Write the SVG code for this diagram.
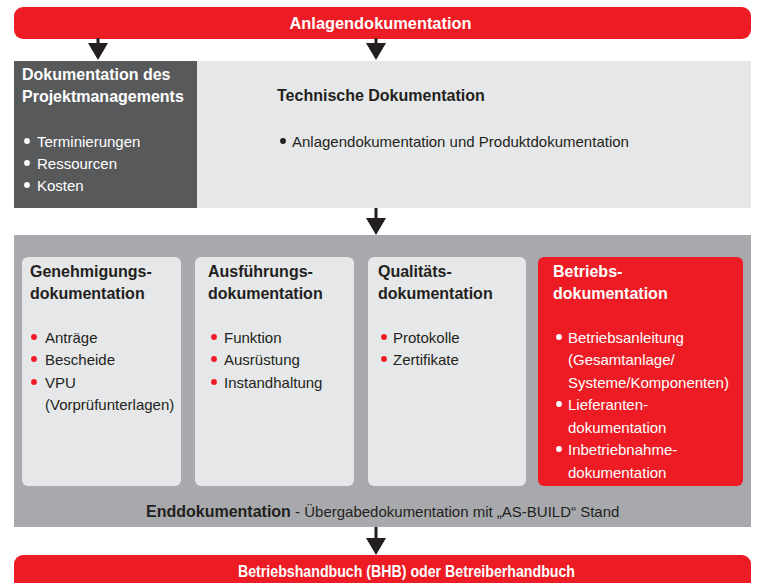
<svg xmlns="http://www.w3.org/2000/svg" width="759" height="583" viewBox="0 0 759 583">
<style>
text{font-family:"Liberation Sans",Arial,sans-serif;}
.b{font-weight:bold;font-size:16px;}
.r{font-size:15px;}
.w{fill:#ffffff;}
.k{fill:#231f20;}
.red{fill:#ed1c24;}
.card{fill:#e6e7e8;}
.arrow{fill:#231f20;}
</style>
<defs>
<g id="arr"><rect x="-1.5" y="0" width="3" height="6"/><path d="M-10,5 L10,5 L0,22 Z"/></g>
</defs>
<rect width="759" height="583" fill="#ffffff"/>

<g id="top">
<rect x="14" y="7" width="737" height="32" rx="9" class="red"/>
<text x="380.5" y="29" text-anchor="middle" class="b w" font-size="17" textLength="182" lengthAdjust="spacingAndGlyphs">Anlagendokumentation</text>
</g>

<g id="pm">
<rect x="14" y="61" width="183" height="147" fill="#58595b"/>
<text x="22" y="80" class="b w">Dokumentation des</text>
<text x="22" y="102" class="b w">Projektmanagements</text>
<circle cx="27" cy="141" r="2.9" class="w"/><text x="37" y="147" class="r w">Terminierungen</text>
<circle cx="27" cy="163" r="2.9" class="w"/><text x="37" y="169" class="r w">Ressourcen</text>
<circle cx="27" cy="185" r="2.9" class="w"/><text x="37" y="191" class="r w">Kosten</text>
</g>

<g id="tech">
<rect x="197" y="61" width="554" height="147" fill="#e6e7e8"/>
<text x="277" y="101" class="b k">Technische Dokumentation</text>
<circle cx="283" cy="141" r="2.9" class="k"/><text x="292" y="147" class="r k">Anlagendokumentation und Produktdokumentation</text>
</g>

<g id="end">
<rect x="14" y="235" width="737" height="292" fill="#a7a9ac"/>
<text x="146" y="517" class="k"><tspan class="b" font-size="15.5">Enddokumentation</tspan><tspan class="r"> - Übergabedokumentation mit „AS-BUILD“ Stand</tspan></text>
</g>

<g id="genehmigung">
<rect x="22" y="257" width="159" height="229" rx="6" class="card"/>
<text x="30" y="277" class="b k">Genehmigungs-</text>
<text x="30" y="299" class="b k">dokumentation</text>
<circle cx="34" cy="337" r="2.9" class="red"/><text x="45" y="343" class="r k">Anträge</text>
<circle cx="34" cy="359" r="2.9" class="red"/><text x="45" y="365" class="r k">Bescheide</text>
<circle cx="34" cy="382" r="2.9" class="red"/><text x="45" y="388" class="r k">VPU</text>
<text x="45" y="410" class="r k">(Vorprüfunterlagen)</text>
</g>

<g id="ausfuehrung">
<rect x="195" y="257" width="159" height="229" rx="6" class="card"/>
<text x="208" y="277" class="b k">Ausführungs-</text>
<text x="208" y="299" class="b k">dokumentation</text>
<circle cx="214" cy="337" r="2.9" class="red"/><text x="224" y="343" class="r k">Funktion</text>
<circle cx="214" cy="359" r="2.9" class="red"/><text x="224" y="365" class="r k">Ausrüstung</text>
<circle cx="214" cy="382" r="2.9" class="red"/><text x="224" y="388" class="r k">Instandhaltung</text>
</g>

<g id="qualitaet">
<rect x="368" y="257" width="158" height="229" rx="6" class="card"/>
<text x="378" y="277" class="b k">Qualitäts-</text>
<text x="378" y="299" class="b k">dokumentation</text>
<circle cx="384" cy="337" r="2.9" class="red"/><text x="393" y="343" class="r k">Protokolle</text>
<circle cx="384" cy="359" r="2.9" class="red"/><text x="393" y="365" class="r k">Zertifikate</text>
</g>

<g id="betrieb">
<rect x="538" y="257" width="205" height="229" rx="6" class="red"/>
<text x="553" y="277" class="b w">Betriebs-</text>
<text x="553" y="299" class="b w">dokumentation</text>
<circle cx="559" cy="337" r="2.9" class="w"/><text x="568" y="343" class="r w">Betriebsanleitung</text>
<text x="568" y="365" class="r w">(Gesamtanlage/</text>
<text x="568" y="388" class="r w">Systeme/Komponenten)</text>
<circle cx="559" cy="404" r="2.9" class="w"/><text x="568" y="410" class="r w">Lieferanten-</text>
<text x="568" y="433" class="r w">dokumentation</text>
<circle cx="559" cy="449" r="2.9" class="w"/><text x="568" y="455" class="r w">Inbetriebnahme-</text>
<text x="568" y="478" class="r w">dokumentation</text>
</g>

<g id="bhb">
<rect x="14" y="555" width="737" height="40" rx="9" class="red"/>
<text x="238" y="577" class="b w" font-size="17" textLength="337" lengthAdjust="spacingAndGlyphs">Betriebshandbuch (BHB) oder Betreiberhandbuch</text>
</g>

<g id="connectors" class="arrow">
<use href="#arr" x="98" y="38"/>
<use href="#arr" x="376" y="38"/>
<g transform="translate(376,208)"><rect x="-1.5" y="0" width="3" height="12"/><path d="M-10,10 L10,10 L0,27 Z"/></g>
<g transform="translate(376,527)"><rect x="-1.5" y="0" width="3" height="12"/><path d="M-10,11 L10,11 L0,28 Z"/></g>
</g>
</svg>
